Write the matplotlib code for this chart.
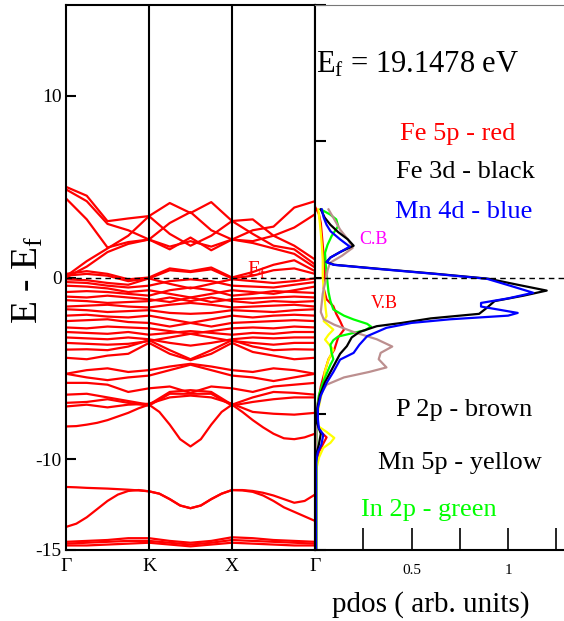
import matplotlib
matplotlib.use('Agg')
import matplotlib.pyplot as plt
import numpy as np

plt.rcParams['font.family'] = ['Liberation Serif', 'DejaVu Serif']
plt.rcParams['mathtext.fontset'] = 'custom'
plt.rcParams['mathtext.rm'] = 'Liberation Serif'
plt.rcParams['mathtext.it'] = 'Liberation Serif:italic'

# ---------------- band structure data (E - Ef, eV) ----------------
kpath = [0, 0.25, 0.5, 0.75, 1, 1.25, 1.5, 1.75, 2, 2.25, 2.5, 2.75, 3]
kfine = [0, 0.125, 0.25, 0.375, 0.5, 0.625, 0.75, 0.875, 1,
         1.125, 1.25, 1.375, 1.5, 1.625, 1.75, 1.875, 2,
         2.125, 2.25, 2.375, 2.5, 2.625, 2.75, 2.875, 3]
k_labels = ['Γ', 'K', 'X', 'Γ']
k_ticks = [0, 1, 2, 3]

c1 = [4.99, 4.5, 3.1, 3.25, 3.38, 4.1, 3.55, 4.15, 3.11, 3.2, 2.3, 1.75, 0.99]
c2 = [4.85, 4.2, 2.95, 2.6, 2.09, 3.0, 3.6, 2.6, 2.09, 2.6, 2.8, 3.85, 4.2]
c3 = [4.35, 3.2, 1.65, 1.95, 2.09, 1.55, 2.2, 1.5, 2.09, 2.0, 2.3, 2.75, 3.48]
c4 = [0.07, 0.9, 1.6, 2.3, 3.38, 2.4, 1.75, 2.3, 3.11, 2.4, 1.75, 1.55, 0.72]
c5 = [0.0, 0.6, 1.4, 1.85, 2.09, 1.7, 2.0, 1.7, 2.09, 1.9, 1.6, 1.3, 0.55]
c6 = [0.2, 0.35, 0.2, -0.1, 0.0, 0.5, 0.35, 0.55, 0.0, 0.3, 0.7, 0.95, 0.35]
c7 = [0.1, 0.2, 0.1, -0.2, -0.05, 0.4, 0.3, 0.45, -0.05, 0.1, 0.4, 0.5, 0.2]

v1 = [-0.1, -0.15, -0.3, -0.4, -0.05, -0.35, -0.6, -0.35, -0.1, -0.2, -0.3, -0.2, -0.05]
v2 = [-0.25, -0.3, -0.45, -0.55, -0.45, -0.2, -0.1, -0.2, -0.45, -0.5, -0.55, -0.4, -0.25]
v3 = [-0.45, -0.5, -0.6, -0.8, -0.7, -0.9, -1.1, -0.9, -0.7, -0.8, -0.9, -0.7, -0.5]
v4 = [-0.8, -0.75, -0.8, -0.9, -1.0, -0.7, -0.55, -0.7, -1.0, -0.9, -0.75, -0.8, -0.85]
v5 = [-1.05, -1.1, -1.0, -1.1, -1.2, -1.35, -1.1, -1.35, -1.2, -1.15, -1.1, -1.05, -1.1]
v6 = [-1.25, -1.3, -1.4, -1.35, -1.3, -1.1, -1.3, -1.1, -1.3, -1.4, -1.3, -1.35, -1.3]
v7 = [-1.6, -1.55, -1.5, -1.6, -1.65, -1.5, -1.4, -1.5, -1.65, -1.6, -1.55, -1.5, -1.6]
v8 = [-1.75, -1.8, -1.9, -1.85, -1.8, -1.95, -2.0, -1.95, -1.8, -1.85, -1.9, -1.8, -1.75]
v9 = [-2.1, -2.05, -2.15, -2.2, -2.1, -2.3, -2.5, -2.3, -2.1, -2.2, -2.1, -2.05, -2.1]
v10 = [-2.4, -2.35, -2.3, -2.45, -2.5, -2.7, -2.5, -2.7, -2.5, -2.45, -2.4, -2.35, -2.4]
v11 = [-2.75, -2.8, -2.7, -2.75, -2.8, -2.95, -3.1, -2.95, -2.8, -2.75, -2.8, -2.7, -2.75]
v12 = [-3.0, -3.05, -3.1, -3.0, -3.15, -3.05, -2.95, -3.05, -3.15, -3.05, -3.1, -3.0, -3.0]
v13 = [-3.3, -3.35, -3.4, -3.3, -3.4, -3.6, -3.75, -3.6, -3.4, -3.3, -3.35, -3.3, -3.3]
v14 = [-3.6, -3.65, -3.7, -3.65, -3.5, -3.3, -3.1, -3.3, -3.5, -3.6, -3.7, -3.6, -3.6]

w1 = [-3.97, -3.95, -4.0, -3.8, -3.45, -4.0, -4.5, -4.0, -3.45, -3.8, -4.0, -3.95, -3.97]
w2 = [-4.42, -4.5, -4.3, -4.2, -3.6, -4.2, -4.55, -4.2, -3.6, -4.1, -4.3, -4.5, -4.42]
w3 = [-5.3, -5.1, -5.0, -5.2, -5.1, -4.9, -4.75, -4.9, -5.1, -5.2, -5.0, -5.1, -5.3]
w4 = [-5.3, -5.5, -5.65, -5.5, -5.4, -5.1, -4.8, -5.1, -5.4, -5.5, -5.7, -5.5, -5.3]
w5 = [-5.8, -5.8, -5.9, -6.3, -6.1, -6.0, -6.35, -6.0, -6.1, -6.3, -6.0, -5.9, -5.8]
w6 = [-6.45, -6.4, -6.6, -6.8, -7.0, -6.3, -6.2, -6.3, -7.0, -6.6, -6.3, -6.35, -6.45]
w7 = [-6.9, -6.85, -6.7, -6.9, -7.05, -6.4, -6.4, -6.4, -7.05, -6.85, -6.7, -6.6, -6.6]
w8 = [-7.1, -7.0, -7.15, -7.0, -6.95, -6.6, -6.5, -6.6, -6.95, -7.4, -7.5, -7.55, -7.45]

# bands read on the finer k grid
w9 = [-8.2, -8.18, -8.1, -8.0, -7.85, -7.65, -7.45, -7.2, -7.0,
      -7.4, -8.1, -8.9, -9.3, -8.9, -8.1, -7.4, -7.0,
      -7.4, -7.85, -8.25, -8.6, -8.85, -8.9, -8.8, -8.6]
d1 = [-11.53, -11.55, -11.58, -11.6, -11.62, -11.65, -11.68, -11.72, -11.77,
      -11.9, -12.2, -12.55, -12.7, -12.55, -12.2, -11.9, -11.7,
      -11.7, -11.75, -11.85, -12.0, -12.2, -12.4, -12.3, -11.95]
d2 = [-13.73, -13.55, -13.2, -12.75, -12.3, -11.95, -11.75, -11.7, -11.77,
      -11.9, -12.2, -12.55, -12.7, -12.55, -12.2, -11.9, -11.7,
      -11.72, -11.8, -12.0, -12.3, -12.65, -12.9, -13.15, -13.4]

e1 = [-14.55, -14.5, -14.45, -14.35, -14.35, -14.5, -14.6, -14.5, -14.3, -14.35, -14.45, -14.5, -14.55]
e2 = [-14.65, -14.6, -14.55, -14.5, -14.5, -14.6, -14.7, -14.6, -14.45, -14.5, -14.55, -14.6, -14.65]
e3 = [-14.75, -14.75, -14.7, -14.65, -14.6, -14.7, -14.8, -14.7, -14.6, -14.65, -14.7, -14.75, -14.75]

bands = [c1, c2, c3, c4, c5, c6, c7,
         v1, v2, v3, v4, v5, v6, v7, v8, v9, v10, v11, v12, v13, v14,
         w1, w2, w3, w4, w5, w6, w7, w8, e1, e2, e3]
fine_bands = [w9, d1, d2]

# ---------------- PDOS data (energy, pdos) ----------------
mn4d_E = [3.75, 3.3, 2.9, 2.55, 2.1, 1.7, 1.4, 1.1, 0.85, 0.7, 0.45, 0.2, -0.07, -0.45, -0.84,
          -1.15, -1.4, -1.6, -1.95, -2.1, -2.3, -2.5, -2.77, -3.23, -3.7, -4.15, -4.52, -5.2,
          -5.8, -6.5, -7.2, -7.8, -8.3, -8.65, -9.2, -9.6, -10.2, -12.0, -14.9]
mn4d_p = [0.035, 0.045, 0.06, 0.08, 0.13, 0.18, 0.13, 0.08, 0.06, 0.095, 0.35, 0.62, 0.89, 1.01, 1.13,
          1.0, 0.86, 0.86, 1.05, 1.0, 0.7, 0.5, 0.37, 0.27, 0.23, 0.2, 0.13, 0.095,
          0.06, 0.03, 0.015, 0.015, 0.02, 0.043, 0.033, 0.015, 0.005, 0.005, 0.005]

fe3d_E = [3.75, 3.3, 2.9, 2.5, 2.1, 1.75, 1.4, 1.1, 0.85, 0.7, 0.45, 0.2, -0.07, -0.4, -0.72,
          -1.0, -1.3, -1.67, -2.0, -2.25, -2.5, -2.68, -3.0, -3.3, -3.78, -4.2, -4.6, -5.2,
          -5.8, -6.5, -7.2, -8.0, -8.6, -9.2, -9.8, -12.0, -14.9]
fe3d_p = [0.03, 0.05, 0.08, 0.12, 0.17, 0.2, 0.13, 0.08, 0.06, 0.1, 0.36, 0.63, 0.9, 1.05, 1.2,
          1.08, 0.93, 0.89, 0.85, 0.6, 0.45, 0.32, 0.23, 0.19, 0.165, 0.13, 0.11, 0.08,
          0.05, 0.025, 0.012, 0.01, 0.03, 0.02, 0.005, 0.005, 0.005]

p2p_E = [3.75, 3.2, 2.64, 2.1, 1.63, 1.2, 0.81, 0.4, 0.07, -0.4, -0.9, -1.4, -1.9, -2.3, -2.6,
         -3.0, -3.4, -3.8, -4.15, -4.5, -4.95, -5.2, -5.5, -5.9, -6.4, -7.0, -8.0, -10.0, -12.0, -14.9]
p2p_p = [0.07, 0.1, 0.13, 0.17, 0.195, 0.14, 0.078, 0.065, 0.06, 0.05, 0.04, 0.035, 0.03, 0.045, 0.1,
         0.2, 0.32, 0.4, 0.34, 0.33, 0.37, 0.28, 0.15, 0.06, 0.03, 0.012, 0.008, 0.007, 0.007, 0.007]

in2p_E = [3.75, 3.47, 3.2, 2.83, 2.28, 1.8, 1.36, 0.8, 0.26, -0.3, -0.8, -1.3, -1.76, -2.1, -2.31,
          -2.55, -2.7, -2.9, -3.05, -3.25, -3.45, -3.7, -4.1, -4.5, -4.8, -5.3, -5.8, -6.5, -7.2,
          -9.0, -12.0, -14.9]
in2p_p = [0.03, 0.078, 0.11, 0.12, 0.086, 0.065, 0.052, 0.055, 0.06, 0.065, 0.07, 0.08, 0.095, 0.15, 0.2,
          0.27, 0.29, 0.26, 0.2, 0.12, 0.095, 0.08, 0.085, 0.095, 0.08, 0.06, 0.04, 0.02, 0.01,
          0.008, 0.008, 0.008]

mn5p_E = [3.75, 3.0, 2.45, 1.8, 1.0, 0.5, 0.0, -0.6, -1.2, -1.7, -2.13, -2.4, -2.87, -3.15, -3.42,
          -3.97, -4.52, -5.2, -6.0, -7.1, -7.8, -8.19, -8.5, -8.83, -9.1, -9.38, -9.93, -10.5, -12.0, -14.9]
mn5p_p = [0.017, 0.025, 0.03, 0.035, 0.04, 0.04, 0.04, 0.045, 0.05, 0.055, 0.06, 0.045, 0.095, 0.07, 0.052,
          0.095, 0.07, 0.05, 0.043, 0.02, 0.01, 0.017, 0.06, 0.1, 0.08, 0.043, 0.02, 0.008, 0.005, 0.005]

fe5p_E = [3.9, 3.5, 3.0, 2.4, 1.8, 1.2, 0.6, 0.0, -0.6, -1.2, -1.58, -2.0, -2.4, -2.87, -3.3,
          -3.97, -4.5, -5.2, -6.0, -7.0, -8.0, -8.5, -8.8, -9.2, -9.6, -10.5, -12.0, -14.9]
fe5p_p = [0.0, 0.02, 0.03, 0.035, 0.04, 0.045, 0.05, 0.05, 0.045, 0.06, 0.095, 0.11, 0.13, 0.15, 0.12,
          0.1, 0.07, 0.05, 0.03, 0.015, 0.01, 0.03, 0.06, 0.04, 0.02, 0.005, 0.005, 0.005]

pdos_series = [
    (fe5p_E, fe5p_p, '#ff0000'),
    (mn5p_E, mn5p_p, '#ffff00'),
    (in2p_E, in2p_p, '#00ff00'),
    (p2p_E, p2p_p, '#bc8f8f'),
    (fe3d_E, fe3d_p, '#000000'),
    (mn4d_E, mn4d_p, '#0000ff'),
]

# ---------------- figure ----------------
W, H = 564, 621
fig = plt.figure(figsize=(W / 100, H / 100), dpi=100)
axL = fig.add_axes([66 / W, 1 - 550 / H, (315 - 66) / W, 545 / H])
axR = fig.add_axes([315 / W, 1 - 550 / H, 251 / W, 545 / H])

# band structure
for b in bands:
    axL.plot(kpath, b, color='#ff0000', lw=1.6, solid_joinstyle='round')
for b in fine_bands:
    axL.plot(kfine, b, color='#ff0000', lw=1.6, solid_joinstyle='round')
for kv in [1, 2]:
    axL.axvline(kv, color='black', lw=1.5)
axL.axhline(0, color='black', lw=1.0, ls=(0, (4, 3)))
axL.set_xlim(0, 3)
axL.set_ylim(-15, 15)
axL.set_xticks(k_ticks)
axL.set_xticklabels(k_labels, fontsize=14)
axL.tick_params(axis='x', length=0, pad=6)
axL.set_yticks([-15, -10, 0, 10])
axL.set_yticklabels(['-15', '-10', '0', '10'], fontsize=14)
axL.tick_params(axis='y', direction='in', length=7, width=1.5, pad=3)
for s in axL.spines.values():
    s.set_linewidth(1.5)
axL.text(2.18, 0.45, r'E$_\mathregular{f}$', color='#ff0000', fontsize=15,
         ha='left', va='center')
fig.text(28 / W, 1 - 280 / H, r'E - E$_\mathregular{f}$', rotation=90, fontsize=27,
         ha='center', va='center')

# pdos
for E, p, col in pdos_series:
    axR.plot(p, E, color=col, lw=1.6)
axR.axhline(0, color='black', lw=1.0, ls=(0, (4, 3)))
axR.set_xlim(0, 1.3)
axR.set_ylim(-15, 15)
axR.set_xticks([0, 0.25, 0.5, 0.75, 1.0, 1.25])
axR.set_xticklabels(['', '', '0.5', '', '1', ''], fontsize=11)
axR.tick_params(axis='x', direction='in', length=16, width=1.2, pad=10)
axR.set_yticks([-15, -7.5, 0, 7.5, 15])
axR.set_yticklabels([])
axR.tick_params(axis='y', direction='in', length=8, width=1.5)
axR.spines['right'].set_visible(False)
axR.spines['top'].set_color('#777777')
axR.spines['top'].set_linewidth(0.8)
axR.spines['left'].set_linewidth(1.5)
axR.spines['bottom'].set_linewidth(1.5)
axR.set_xlabel('pdos ( arb. units)', fontsize=21, labelpad=2)
axR.xaxis.set_label_coords(0.46, -0.075)

axR.text(0.005, 11.7, r'E$_\mathregular{f}$ = 19.1478 eV', fontsize=22, ha='left', va='center')
axR.text(0.74, 7.9, 'Fe 5p - red', color='#ff0000', fontsize=19, ha='center', va='center')
axR.text(0.78, 5.8, 'Fe 3d - black', color='black', fontsize=19, ha='center', va='center')
axR.text(0.77, 3.6, 'Mn 4d - blue', color='#0000ff', fontsize=19, ha='center', va='center')
axR.text(0.305, 2.1, 'C.B', color='#ff00ff', fontsize=13, ha='center', va='center')
axR.text(0.36, -1.45, 'V.B', color='#ff0000', fontsize=13, ha='center', va='center')
axR.text(0.77, -7.3, 'P 2p - brown', color='black', fontsize=19, ha='center', va='center')
axR.text(0.75, -10.2, 'Mn 5p - yellow', color='black', fontsize=19, ha='center', va='center')
axR.text(0.59, -12.8, 'In 2p - green', color='#00ff00', fontsize=19, ha='center', va='center')

fig.savefig('out.png', dpi=100)
